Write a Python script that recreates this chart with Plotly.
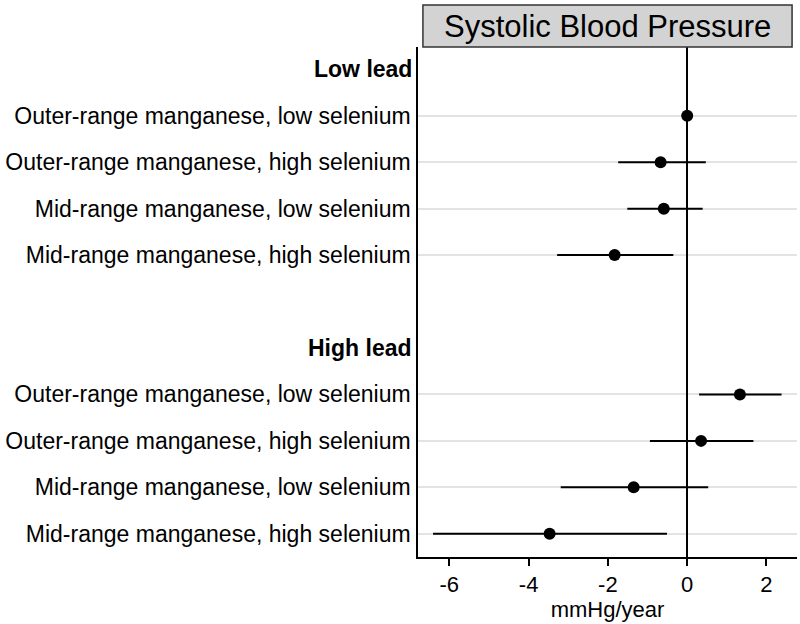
import plotly.graph_objects as go

# ---- data ----
group_labels = ["Low lead", "High lead"]
row_labels = [
    "Outer-range manganese, low selenium",
    "Outer-range manganese, high selenium",
    "Mid-range manganese, low selenium",
    "Mid-range manganese, high selenium",
]
low_est = [0.0, -0.67, -0.59, -1.83]
low_lo = [0.0, -1.74, -1.51, -3.28]
low_hi = [0.0, 0.47, 0.39, -0.35]
high_est = [1.33, 0.35, -1.35, -3.47]
high_lo = [0.30, -0.94, -3.19, -6.41]
high_hi = [2.38, 1.67, 0.53, -0.51]
x_ticks = [-6, -4, -2, 0, 2]
x_tick_text = ["-6", "-4", "-2", "0", "2"]
title_text = "Systolic Blood Pressure"
x_title = "mmHg/year"

# slot layout: header, 4 rows, blank, header, 4 rows
low_pos = [1, 2, 3, 4]
high_pos = [7, 8, 9, 10]
header_pos = [0, 6]

est = low_est + high_est
lo = low_lo + high_lo
hi = low_hi + high_hi
pos = low_pos + high_pos
labels = row_labels + row_labels

fig = go.Figure()
fig.add_trace(go.Scatter(
    x=est, y=pos, mode="markers",
    marker=dict(color="black", size=12),
    error_x=dict(type="data", symmetric=False,
                 array=[h - e for h, e in zip(hi, est)],
                 arrayminus=[e - l for e, l in zip(est, lo)],
                 color="black", thickness=2, width=0),
    showlegend=False, hoverinfo="x",
))

FONT = "Liberation Sans, Arial, Helvetica, sans-serif"
LABEL_SIZE = 23

for g, p in zip(group_labels, header_pos):
    fig.add_annotation(x=0, xref="paper", y=p, yref="y", text="<b>%s</b>" % g,
                       showarrow=False, xanchor="right", xshift=-4,
                       font=dict(family=FONT, size=LABEL_SIZE, color="black"))

# title box
fig.add_shape(type="rect", xref="paper", yref="paper", x0=0.013, x1=0.987,
              y0=1.0, y1=1.0824, fillcolor="#d3d3d3",
              line=dict(color="#333333", width=1.5), layer="above")
fig.add_annotation(x=0.5, xref="paper", y=1.041, yref="paper", text=title_text,
                   showarrow=False, xanchor="center", yanchor="middle",
                   font=dict(family=FONT, size=31, color="black"))

fig.update_layout(
    width=800, height=624,
    margin=dict(l=418, r=3, t=47, b=67, autoexpand=False),
    plot_bgcolor="white", paper_bgcolor="white",
    font=dict(family=FONT, color="black"),
    xaxis=dict(range=[-6.79, 2.77], tickvals=x_ticks, ticktext=x_tick_text,
               ticks="outside", ticklen=7, tickwidth=1.5, tickcolor="black",
               showline=True, linecolor="black", linewidth=1.5,
               showgrid=False, zeroline=True, zerolinecolor="black",
               zerolinewidth=2, tickfont=dict(size=22), automargin=False,
               title=dict(text=x_title, font=dict(size=22), standoff=2)),
    yaxis=dict(range=[10.5, -0.48], tickvals=pos, ticktext=labels,
               ticks="", showline=True, linecolor="black", linewidth=1.5,
               showgrid=True, gridcolor="#e3e3e3", gridwidth=2, automargin=False,
               zeroline=False, tickfont=dict(size=LABEL_SIZE), ticklabelstandoff=1),
)

fig.write_html("out.html", config={"displayModeBar": False},
               post_script="document.body.style.margin='0';document.body.style.overflow='hidden';")
